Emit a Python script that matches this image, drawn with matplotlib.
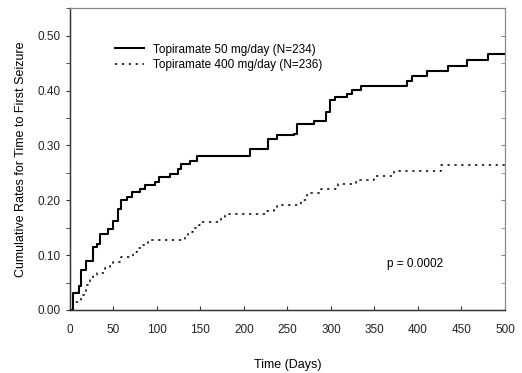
import matplotlib
matplotlib.use("Agg")
import matplotlib.pyplot as plt
from matplotlib.ticker import MultipleLocator

plt.rcParams['font.family'] = ['Liberation Sans', 'DejaVu Sans']

# step change points
days_50 = [0, 4, 10, 13, 19, 27, 31, 35, 44, 50, 55, 59, 65, 71, 80, 86, 98,
           102, 115, 124, 128, 138, 146, 207, 228, 238, 257, 261, 280, 294,
           299, 305, 318, 324, 335, 387, 393, 410, 435, 456, 481, 500]
rate_50 = [0, 0.031, 0.044, 0.072, 0.090, 0.114, 0.120, 0.139, 0.148, 0.163,
           0.184, 0.200, 0.206, 0.215, 0.221, 0.227, 0.233, 0.242, 0.248,
           0.257, 0.266, 0.272, 0.281, 0.294, 0.312, 0.318, 0.321, 0.339,
           0.345, 0.361, 0.382, 0.389, 0.394, 0.401, 0.409, 0.418, 0.426,
           0.435, 0.444, 0.455, 0.466, 0.466]

days_400 = [0, 4, 13, 19, 23, 27, 31, 40, 46, 50, 59, 73, 77, 82, 90, 132,
            136, 142, 148, 151, 174, 178, 226, 234, 238, 266, 272, 289, 308,
            329, 349, 372, 427, 500]
rate_400 = [0, 0.015, 0.027, 0.046, 0.058, 0.064, 0.067, 0.076, 0.082, 0.087,
            0.097, 0.106, 0.113, 0.119, 0.128, 0.134, 0.143, 0.149, 0.155,
            0.161, 0.168, 0.174, 0.180, 0.184, 0.192, 0.201, 0.213, 0.221,
            0.229, 0.236, 0.245, 0.254, 0.265, 0.265]

label_50 = "Topiramate 50 mg/day (N=234)"
label_400 = "Topiramate 400 mg/day (N=236)"
p_text = "p = 0.0002"

fig = plt.figure(figsize=(5.22, 3.73), dpi=100)
ax = fig.add_axes([0.134, 0.169, 0.8334, 0.809])

ax.plot(days_50, rate_50, drawstyle='steps-post', color='black', lw=1.5,
        label=label_50)
ax.plot(days_400, rate_400, drawstyle='steps-post', color='black', lw=1.1,
        linestyle=(0, (1.5, 3)), label=label_400)

ax.set_xlim(0, 500)
ax.set_ylim(0, 0.55)
ax.xaxis.set_major_locator(MultipleLocator(50))
ax.set_yticks([0, 0.1, 0.2, 0.3, 0.4, 0.5])
ax.set_yticklabels(["0.00", "0.10", "0.20", "0.30", "0.40", "0.50"])
ax.yaxis.set_minor_locator(MultipleLocator(0.05))
ax.tick_params(axis='y', which='both', direction='out', length=3, labelsize=8.5,
               colors='#333333', labelcolor='#222222')
ax.tick_params(axis='x', which='both', direction='in', length=3, labelsize=8.5,
               pad=10, colors='#333333', labelcolor='#222222')

# right-hand ticks point inward
ax_r = ax.twinx()
ax_r.set_ylim(ax.get_ylim())
ax_r.set_yticks([0, 0.1, 0.2, 0.3, 0.4, 0.5])
ax_r.yaxis.set_minor_locator(MultipleLocator(0.05))
ax_r.tick_params(axis='y', which='both', direction='in', length=3,
                 labelright=False, colors='#888888')

for a in (ax, ax_r):
    for side in ['top', 'right']:
        a.spines[side].set_color('#888888')
        a.spines[side].set_linewidth(0.8)
    for side in ['left', 'bottom']:
        a.spines[side].set_color('#333333')
        a.spines[side].set_linewidth(0.9)

ax.set_xlabel("Time (Days)", fontsize=9, labelpad=17)
ax.set_ylabel("Cumulative Rates for Time to First Seizure", fontsize=9,
              labelpad=8)

ax.legend(loc='upper left', bbox_to_anchor=(0.08, 0.918), frameon=False,
          fontsize=8.5, handlelength=2.4, handletextpad=0.8, labelspacing=0.3)

ax.text(364, 0.083, p_text, fontsize=8.5, va='center', ha='left')

fig.savefig("out.png", dpi=100)
